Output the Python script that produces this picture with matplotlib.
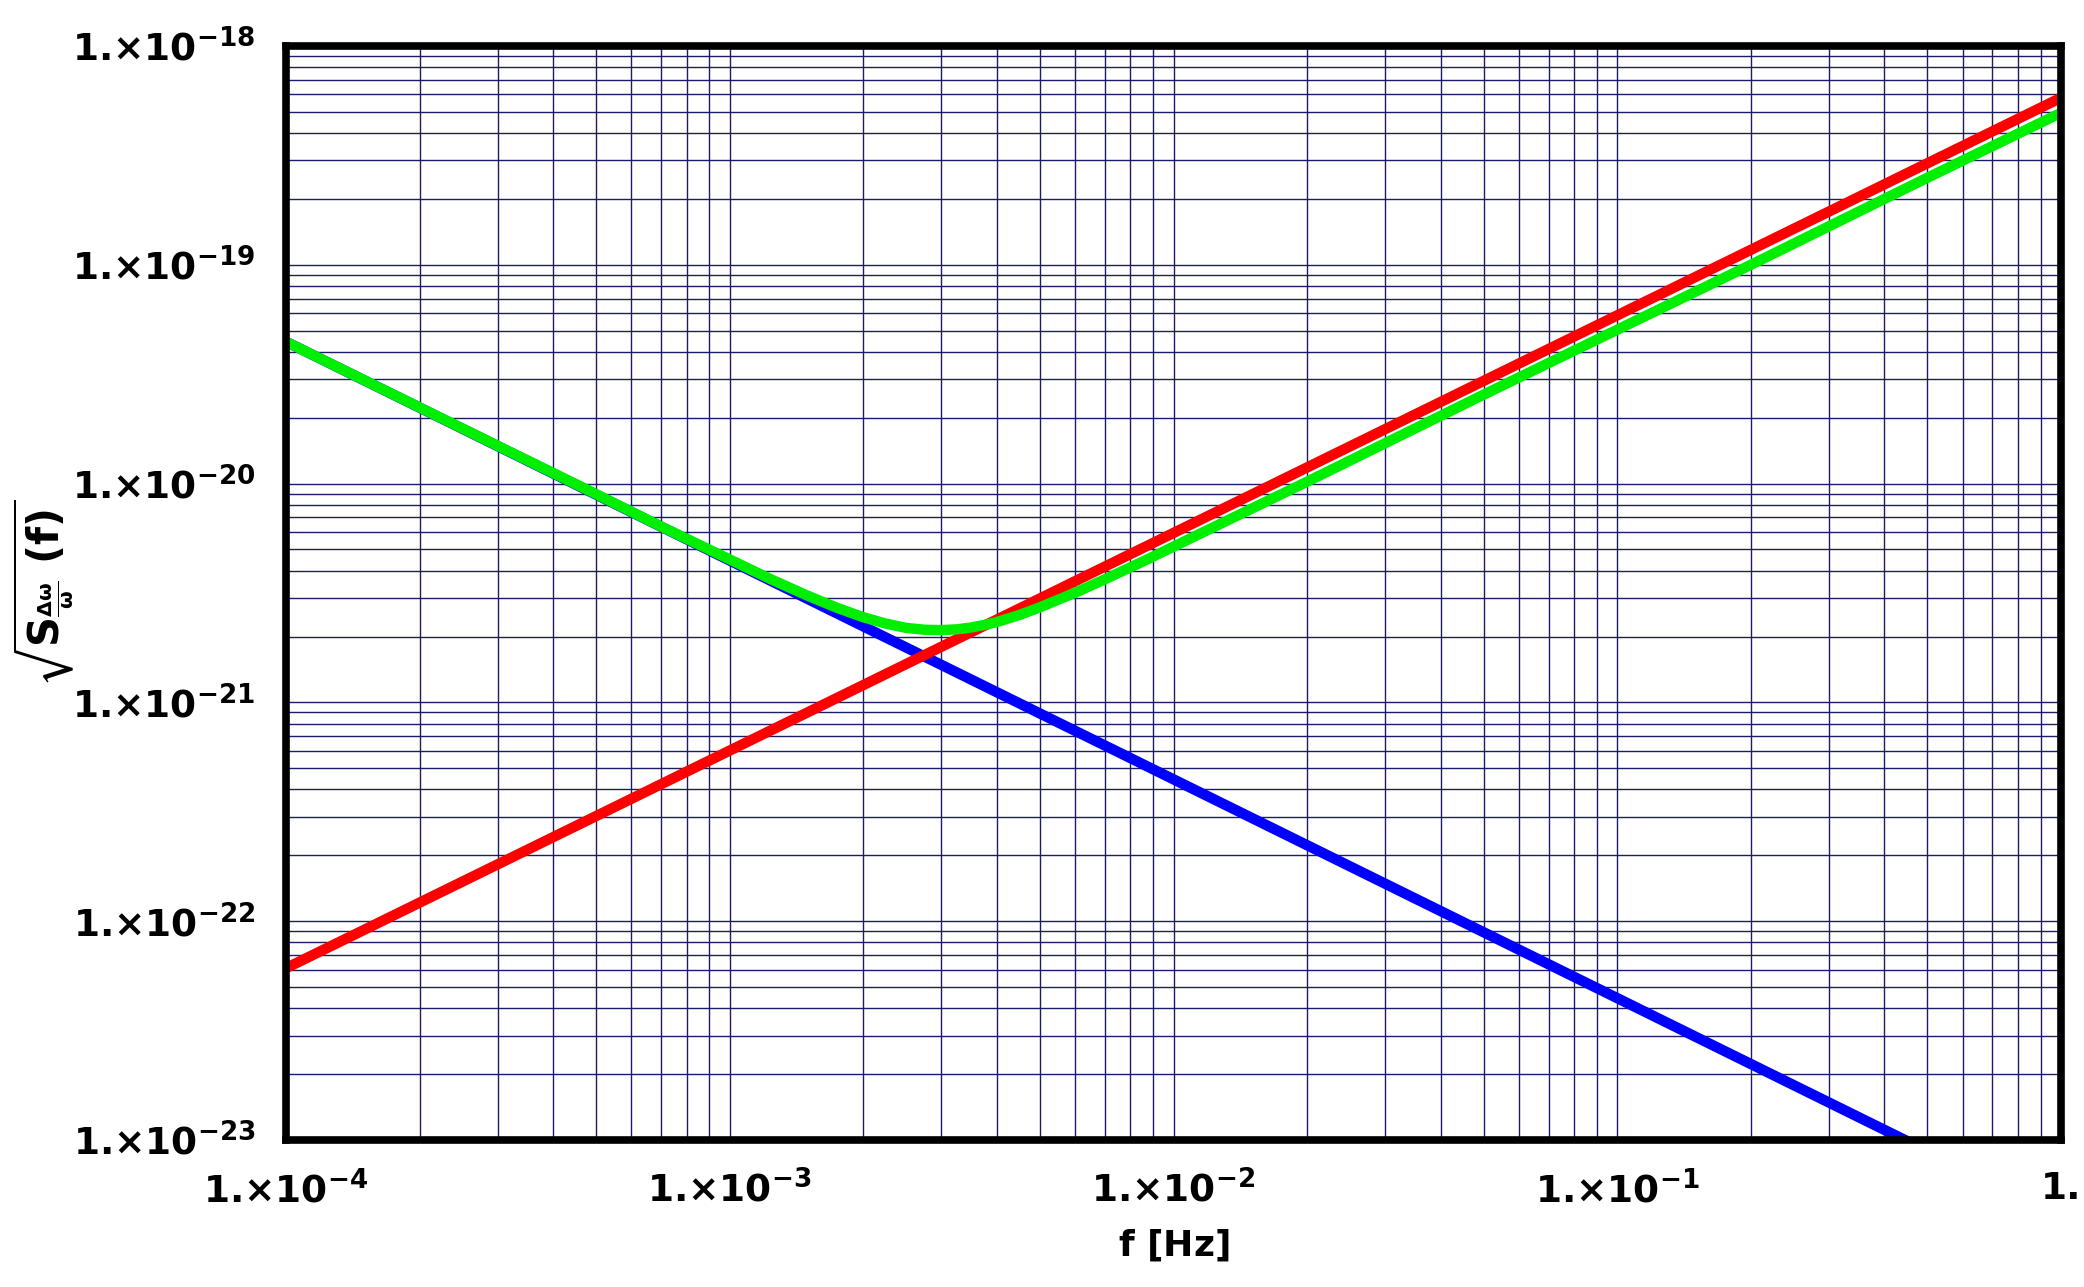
import numpy as np
import matplotlib
matplotlib.use("Agg")
import matplotlib.pyplot as plt
from matplotlib.ticker import FixedLocator, FuncFormatter, LogLocator, NullFormatter

plt.rcParams["font.family"] = ["DejaVu Sans"]
plt.rcParams["font.weight"] = "bold"
plt.rcParams["mathtext.default"] = "bf"

# frequency [Hz]
f_line = [1e-4, 1.0]
red_vals = [6.1e-23, 5.8e-19]
blue_vals = [4.45e-20, 4.45e-24]

f_green = [1e-4, 2e-4, 5e-4, 7e-4, 1e-3, 1.25e-3, 1.5e-3, 1.75e-3, 2e-3,
           2.25e-3, 2.5e-3, 2.75e-3, 3e-3, 3.25e-3, 3.5e-3, 3.75e-3, 4e-3,
           4.5e-3, 5e-3, 6e-3, 7e-3, 8.5e-3, 1e-2, 2e-2, 5e-2, 1e-1, 2e-1,
           5e-1, 1.0]
green_vals = [4.45e-20, 2.23e-20, 8.95e-21, 6.37e-21, 4.5e-21, 3.62e-21,
              3.07e-21, 2.7e-21, 2.45e-21, 2.29e-21, 2.19e-21, 2.147e-21,
              2.14e-21, 2.157e-21, 2.2e-21, 2.26e-21, 2.33e-21, 2.51e-21,
              2.72e-21, 3.17e-21, 3.65e-21, 4.39e-21, 5.15e-21, 1.02e-20,
              2.55e-20, 5.05e-20, 1.0e-19, 2.5e-19, 4.95e-19]

x_ticks = [1e-4, 1e-3, 1e-2, 1e-1, 1.0]
y_ticks = [1e-23, 1e-22, 1e-21, 1e-20, 1e-19, 1e-18]


def sci_label(v, pos=None):
    """
    label like 1.x10^-n
    """
    e = int(round(np.log10(v)))
    if e == 0:
        return "1."
    return "1.\u00d710$^{%d}$" % e


def main():
    fig = plt.figure(figsize=(20.84, 12.87), dpi=100)
    ax = fig.add_axes([0.1372, 0.1142, 0.8518, 0.8501])
    ax.set_xscale("log")
    ax.set_yscale("log")
    ax.set_xlim(1e-4, 1.0)
    ax.set_ylim(1e-23, 1e-18)

    ax.plot(f_line, blue_vals, color="#0000ff", lw=7.5, zorder=3,
            solid_capstyle="butt")
    ax.plot(f_line, red_vals, color="#ff0000", lw=7.5, zorder=4,
            solid_capstyle="butt")
    ax.plot(f_green, green_vals, color="#00ee00", lw=7.5, zorder=5,
            solid_capstyle="butt", solid_joinstyle="round")

    ax.xaxis.set_major_locator(FixedLocator(x_ticks))
    ax.yaxis.set_major_locator(FixedLocator(y_ticks))
    ax.xaxis.set_minor_locator(LogLocator(base=10, subs=np.arange(2, 10), numticks=20))
    ax.yaxis.set_minor_locator(LogLocator(base=10, subs=np.arange(2, 10), numticks=20))
    ax.xaxis.set_major_formatter(FuncFormatter(sci_label))
    ax.yaxis.set_major_formatter(FuncFormatter(sci_label))
    ax.xaxis.set_minor_formatter(NullFormatter())
    ax.yaxis.set_minor_formatter(NullFormatter())
    ax.tick_params(which="both", length=0)
    ax.tick_params(axis="x", labelsize=27, pad=22)
    ax.tick_params(axis="y", labelsize=27, pad=22)

    ax.grid(True, which="both", color="#1c1c66", lw=1.0, zorder=1)
    ax.set_axisbelow(True)
    for s in ax.spines.values():
        s.set_linewidth(5.5)
        s.set_color("black")
        s.set_zorder(10)

    ax.set_xlabel(r"$f\ [Hz]$", fontsize=26)
    ax.xaxis.set_label_coords(0.5, -0.08)
    ax.set_ylabel(r"$\sqrt{S_{\frac{\Delta\omega}{\omega}}\ (f)}$", fontsize=30)
    ax.yaxis.set_label_coords(-0.118, 0.5)

    fig.savefig("out.png", dpi=100)


if __name__ == "__main__":
    main()
